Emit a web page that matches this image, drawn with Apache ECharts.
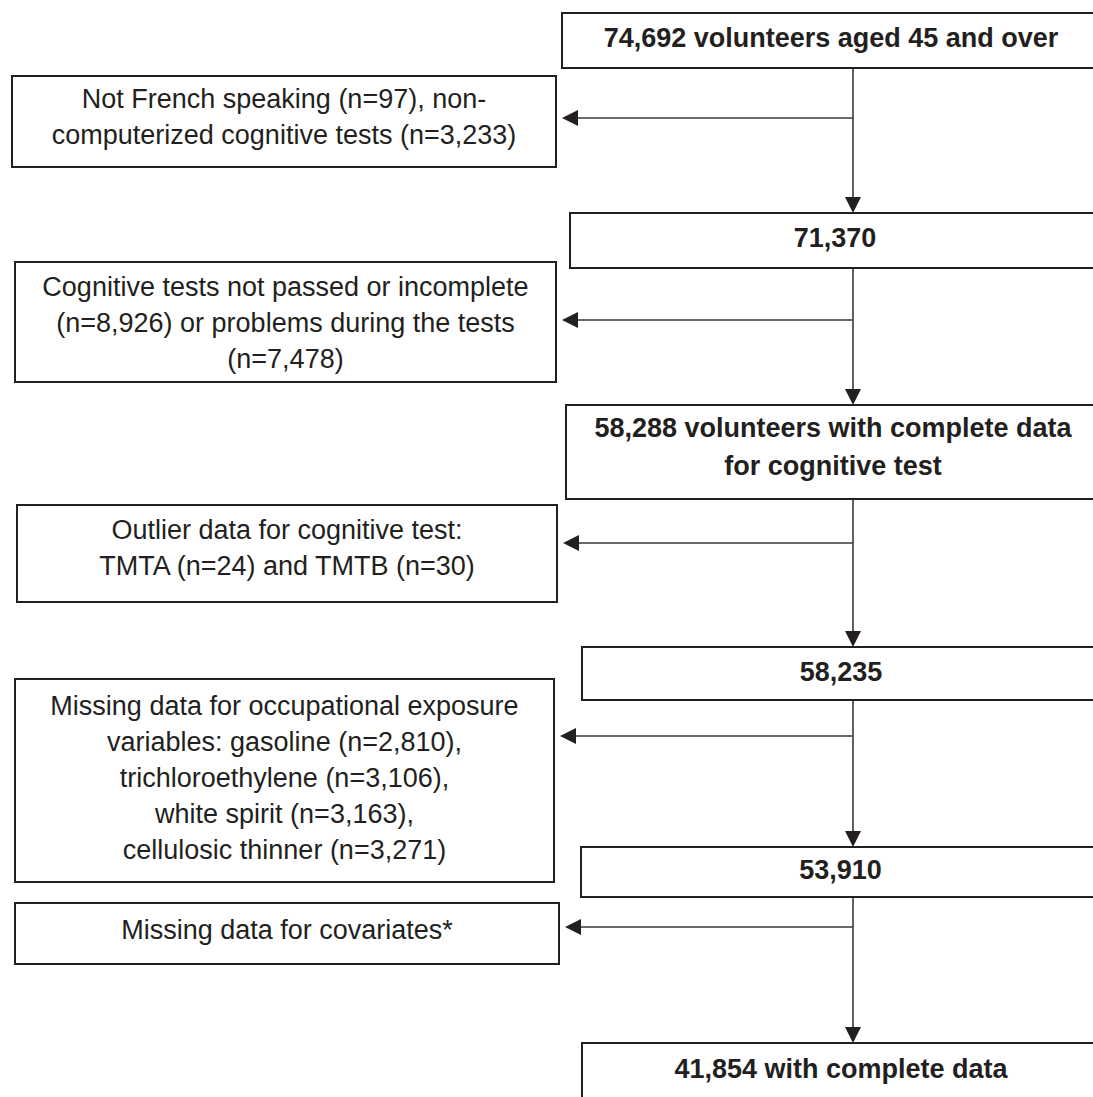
<!DOCTYPE html>
<html lang="en">
<head>
<meta charset="UTF-8">
<script src="https://cdn.jsdelivr.net/npm/echarts@6/dist/echarts.min.js"></script>
<title>Participant flow chart</title>
<style>html,body{margin:0;padding:0;background:#fff;}</style>
</head>
<body>
<div id="main" style="width:1093px;height:1097px;"></div>
<script type="text/javascript">
    // --- data: what is left at each step, and what was excluded ---
    var stepLabels = [
        '74,692 volunteers aged 45 and over',
        '71,370',
        '58,288 volunteers with complete data\nfor cognitive test',
        '58,235',
        '53,910',
        '41,854 with complete data'
    ];
    var exclusionLabels = [
        'Not French speaking (n=97), non-\ncomputerized cognitive tests (n=3,233)',
        'Cognitive tests not passed or incomplete\n(n=8,926) or problems during the tests\n(n=7,478)',
        'Outlier data for cognitive test:\nTMTA (n=24) and TMTB (n=30)',
        'Missing data for occupational exposure\nvariables: gasoline (n=2,810),\ntrichloroethylene (n=3,106),\nwhite spirit (n=3,163),\ncellulosic thinner (n=3,271)',
        'Missing data for covariates*'
    ];

    // --- layout, in canvas pixels (x0, y0, x1, y1) ---
    var W = 1093, H = 1097;
    var stepBoxes = [
        [562, 13, 1100, 68],
        [570, 213, 1100, 268],
        [566, 405, 1100, 499],
        [582, 647, 1100, 700],
        [581, 847, 1100, 897],
        [582, 1043, 1100, 1110]
    ];
    var stepTextY = [40, 240, 449, 674, 872, 1071];
    var exclBoxes = [
        [12, 76, 556, 167],
        [15, 262, 556, 382],
        [17, 505, 557, 602],
        [15, 679, 554, 882],
        [15, 903, 559, 964]
    ];
    var exclTextY = [119, 325, 550, 780, 932];
    var arrowY = [118, 320, 543, 736, 927];
    var spineX = 853;
    var textNudge = -2;   // svg text sits a little low

    var ink = '#231f20';
    var lineInk = '#3a3a3a';

    function boxGroup(api, b, label, tx, ty, bold) {
        var p0 = api.coord([b[0], b[1]]);
        var p1 = api.coord([b[2], b[3]]);
        var t = api.coord([tx, ty + textNudge]);
        return {
            type: 'group',
            children: [
                {
                    type: 'rect',
                    shape: {x: p0[0], y: p0[1], width: p1[0] - p0[0], height: p1[1] - p0[1]},
                    style: {fill: '#fff', stroke: ink, lineWidth: 2}
                },
                {
                    type: 'text',
                    style: {
                        text: label,
                        x: t[0],
                        y: t[1],
                        align: 'center',
                        verticalAlign: 'middle',
                        fill: ink,
                        fontFamily: 'Liberation Sans, Arial, Helvetica, sans-serif',
                        fontSize: 27,
                        fontWeight: bold ? 'bold' : 'normal',
                        lineHeight: bold ? 38 : 36
                    }
                }
            ]
        };
    }

    function headPoints(api, tip, dir) {
        // dir: 'down' or 'left'; 16px head
        var p = api.coord(tip);
        if (dir === 'down') {
            return [[p[0], p[1]], [p[0] - 8, p[1] - 16], [p[0] + 8, p[1] - 16]];
        }
        return [[p[0], p[1]], [p[0] + 16, p[1] - 8], [p[0] + 16, p[1] + 8]];
    }

    function renderStep(params, api) {
        var i = api.value(0);
        var b = stepBoxes[i];
        return boxGroup(api, b, stepLabels[i], (b[0] + b[2]) / 2, stepTextY[i], true);
    }

    function renderExcl(params, api) {
        var i = api.value(0);
        var b = exclBoxes[i];
        return boxGroup(api, b, exclusionLabels[i], (b[0] + b[2]) / 2, exclTextY[i], false);
    }

    function renderLinks(params, api) {
        var i = api.value(0);
        var children = [];
        var from = stepBoxes[i], to = stepBoxes[i + 1];
        var a = api.coord([spineX, from[3]]);
        var c = api.coord([spineX, to[1]]);
        children.push({
            type: 'line',
            shape: {x1: a[0], y1: a[1], x2: c[0], y2: c[1] - 14},
            style: {stroke: lineInk, lineWidth: 1.6}
        });
        children.push({
            type: 'polygon',
            shape: {points: headPoints(api, [spineX, to[1]], 'down')},
            style: {fill: ink}
        });
        var e = exclBoxes[i];
        var h0 = api.coord([spineX, arrowY[i]]);
        var h1 = api.coord([e[2] + 6, arrowY[i]]);
        children.push({
            type: 'line',
            shape: {x1: h0[0], y1: h0[1], x2: h1[0] + 14, y2: h1[1]},
            style: {stroke: lineInk, lineWidth: 1.6}
        });
        children.push({
            type: 'polygon',
            shape: {points: headPoints(api, [e[2] + 6, arrowY[i]], 'left')},
            style: {fill: ink}
        });
        return {type: 'group', children: children};
    }

    var myChart = echarts.init(document.getElementById('main'), null, {renderer: 'svg'});

    var option = {
        animation: false,
        backgroundColor: '#fff',
        grid: {left: 0, right: 0, top: 0, bottom: 0},
        xAxis: {type: 'value', min: 0, max: W, show: false},
        yAxis: {type: 'value', min: 0, max: H, inverse: true, show: false},
        series: [
            {
                type: 'custom',
                clip: false,
                renderItem: renderLinks,
                data: [[0], [1], [2], [3], [4]],
                z: 1
            },
            {
                type: 'custom',
                clip: false,
                renderItem: renderStep,
                data: stepLabels.map(function (s, i) { return [i]; }),
                z: 2
            },
            {
                type: 'custom',
                clip: false,
                renderItem: renderExcl,
                data: exclusionLabels.map(function (s, i) { return [i]; }),
                z: 2
            }
        ]
    };
    myChart.setOption(option);
</script>
</body>
</html>
